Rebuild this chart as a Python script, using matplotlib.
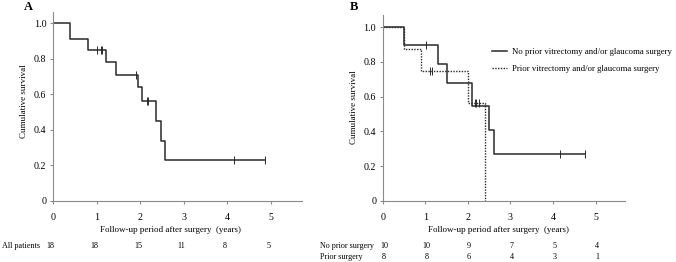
import matplotlib
matplotlib.use("Agg")
import matplotlib.pyplot as plt
from matplotlib.transforms import blended_transform_factory

plt.rcParams['font.family'] = ['Liberation Serif', 'DejaVu Serif']

# ---- Data ----
# Panel A: all patients
times_A = [0, 0.40, 0.81, 1.21, 1.44, 1.96, 2.05, 2.37, 2.47, 2.58, 4.86]
surv_A = [1.0, 0.91, 0.85, 0.78, 0.71, 0.64, 0.56, 0.45, 0.34, 0.23, 0.23]
cens_t_A = [1.02, 1.10, 1.13, 1.90, 2.15, 2.18, 4.15, 4.86]
cens_s_A = [0.85, 0.85, 0.85, 0.71, 0.56, 0.56, 0.23, 0.23]

# Panel B: no prior surgery
times_B1 = [0, 0.51, 1.31, 1.50, 2.09, 2.49, 2.61, 4.76]
surv_B1 = [1.0, 0.90, 0.79, 0.68, 0.545, 0.41, 0.27, 0.27]
cens_t_B1 = [1.01, 4.16, 4.76]
cens_s_B1 = [0.90, 0.27, 0.27]

# Panel B: prior surgery
times_B2 = [0, 0.51, 0.91, 2.00, 2.40]
surv_B2 = [1.0, 0.875, 0.75, 0.5625, 0.0]
cens_t_B2 = [1.10, 1.15, 2.16, 2.20, 2.25]
cens_s_B2 = [0.75, 0.75, 0.5625, 0.5625, 0.5625]

risk_years = [0, 1, 2, 3, 4, 5]
risk_all = [18, 18, 15, 11, 8, 5]
risk_noprior = [10, 10, 9, 7, 5, 4]
risk_prior = [8, 8, 6, 4, 3, 1]

yticks = [0, 0.2, 0.4, 0.6, 0.8, 1.0]
ytick_labels = ["0", "0.2", "0.4", "0.6", "0.8", "1.0"]
xlabel_text = "Follow-up period after surgery  (years)"
ylabel_text = "Cumulative survival"
legend_labels = ["No prior vitrectomy and/or glaucoma surgery",
                 "Prior vitrectomy and/or glaucoma surgery"]

W, H = 676, 262
fig = plt.figure(figsize=(W / 100, H / 100), dpi=100)

line_col = '#2a2a2a'
spine_col = '#8a8a8a'
fs_tick = 7.2
fs_lab = 6.5
fs_leg = 6.3
fs_tab = 5.9


def px_axes(left, right, top, bottom):
    return fig.add_axes([left / W, 1 - bottom / H, (right - left) / W, (bottom - top) / H])


def style(ax, xmax, ymax):
    ax.set_xlim(0, xmax)
    ax.set_ylim(0, ymax)
    for s in ['top', 'right']:
        ax.spines[s].set_visible(False)
    for s in ['left', 'bottom']:
        ax.spines[s].set_color(spine_col)
        ax.spines[s].set_linewidth(0.8)
    ax.set_xticks(risk_years)
    ax.set_xticklabels([str(v) for v in risk_years])
    ax.set_yticks(yticks)
    ax.set_yticklabels(ytick_labels)
    ax.tick_params(axis='x', direction='out', length=2.5, width=0.8, color=spine_col,
                   pad=6.0, labelsize=fs_tick)
    ax.tick_params(axis='y', direction='out', length=2.5, width=0.8, color=spine_col,
                   pad=2.2, labelsize=fs_tick)


# Panel A
axA = px_axes(53, 302, 11.7, 201)
style(axA, 5.72, 1.065)
axA.step(times_A, surv_A, where='post', color=line_col, lw=1.1)
axA.plot(cens_t_A, cens_s_A, linestyle='none', marker='|', markersize=6,
         markeredgewidth=0.7, color=line_col)
axA.text(0.473, -0.153, xlabel_text, transform=axA.transAxes, ha='center', va='center',
         fontsize=fs_lab)
axA.text(-0.116, 0.528, ylabel_text, transform=axA.transAxes, ha='center', va='center',
         rotation=90, fontsize=fs_lab)
fig.text(28 / W, 1 - 7 / H, "A", fontsize=9, fontweight='bold', ha='center', va='center')

# Panel B
axB = px_axes(382.7, 625, 15, 200.7)
style(axB, 5.69, 1.071)
l1, = axB.step(times_B1, surv_B1, where='post', color=line_col, lw=1.1)
axB.plot(cens_t_B1, cens_s_B1, linestyle='none', marker='|', markersize=6,
         markeredgewidth=0.7, color=line_col)
l2, = axB.step(times_B2, surv_B2, where='post', color=line_col, lw=1.0, linestyle=(0, (1, 1)))
axB.plot(cens_t_B2, cens_s_B2, linestyle='none', marker='|', markersize=6,
         markeredgewidth=0.7, color=line_col)
axB.text(0.476, -0.158, xlabel_text, transform=axB.transAxes, ha='center', va='center',
         fontsize=fs_lab)
axB.text(-0.118, 0.505, ylabel_text, transform=axB.transAxes, ha='center', va='center',
         rotation=90, fontsize=fs_lab)
fig.text(354 / W, 1 - 7 / H, "B", fontsize=9, fontweight='bold', ha='center', va='center')

leg = fig.legend([l1, l2], legend_labels, loc='upper left',
                 bbox_to_anchor=(492 / W, 1 - 48 / H), bbox_transform=fig.transFigure,
                 frameon=False, fontsize=fs_leg, handlelength=1.75, handletextpad=0.55,
                 labelspacing=1.0, borderpad=0, borderaxespad=0)

# Numbers at risk
trA = blended_transform_factory(axA.transData, fig.transFigure)
trB = blended_transform_factory(axB.transData, fig.transFigure)
fig.text(2 / W, 1 - 246 / H, "All patients", fontsize=fs_tab, ha='left', va='center')
for x, n in zip(risk_years, risk_all):
    axA.text(x - 0.05, 1 - 246 / H, str(n), transform=trA, fontsize=fs_tab,
             ha='center', va='center')
fig.text(320 / W, 1 - 245.7 / H, "No prior surgery", fontsize=fs_tab, ha='left', va='center')
fig.text(320 / W, 1 - 257.3 / H, "Prior surgery", fontsize=fs_tab, ha='left', va='center')
for x, n in zip(risk_years, risk_noprior):
    axB.text(x + 0.03, 1 - 245.7 / H, str(n), transform=trB, fontsize=fs_tab,
             ha='center', va='center')
for x, n in zip(risk_years, risk_prior):
    axB.text(x + 0.03, 1 - 257.3 / H, str(n), transform=trB, fontsize=fs_tab,
             ha='center', va='center')

fig.savefig("out.png", dpi=100)
